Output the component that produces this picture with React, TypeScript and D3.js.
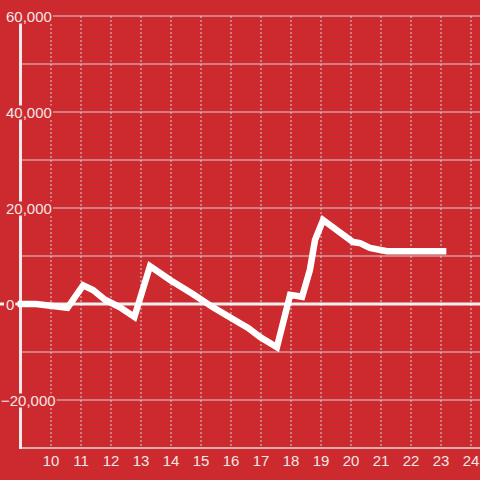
import React, { useEffect, useRef } from "react";
import * as d3 from "d3";

const days = [9.0, 9.5, 10.55, 11.07, 11.4, 11.8, 12.3, 12.78, 13.3, 13.97, 14.7, 15.4, 16.3, 16.57, 16.97, 17.53, 17.97, 18.37, 18.63, 18.8, 19.07, 20.07, 20.3, 20.63, 21.2, 23.07];
const values = [0, 0, -800, 3900, 2900, 900, -700, -2700, 7900, 5000, 2200, -700, -4000, -5000, -6900, -9000, 1900, 1500, 7100, 13300, 17500, 12900, 12700, 11700, 11000, 11000];
const xTicks = [10, 11, 12, 13, 14, 15, 16, 17, 18, 19, 20, 21, 22, 23, 24];
const yGrid = [-20000, -10000, 10000, 20000, 30000, 40000, 50000, 60000];
const yLabels = [60000, 40000, 20000, 0, -20000];

const W = 480;
const H = 480;
const BG = "#cc2a2f";
const TEXT = "#f4e6e6";
const GRID = "#d4d0d0";

export default function App() {
  const ref = useRef<SVGSVGElement | null>(null);

  useEffect(() => {
    const svg = d3.select(ref.current);
    svg.selectAll("*").remove();
    const x = d3.scaleLinear().domain([9, 24.3]).range([21, 480]);
    const y = d3.scaleLinear().domain([-30000, 60000]).range([448, 16]);

    svg.append("rect").attr("width", W).attr("height", H).attr("fill", BG);

    svg.append("g").selectAll("line").data(yGrid).join("line")
      .attr("x1", 21).attr("x2", W)
      .attr("y1", (d) => y(d)).attr("y2", (d) => y(d))
      .attr("stroke", GRID).attr("stroke-width", 1);

    svg.append("g").selectAll("line").data(xTicks).join("line")
      .attr("x1", (d) => x(d)).attr("x2", (d) => x(d))
      .attr("y1", y(60000)).attr("y2", y(-30000))
      .attr("stroke", GRID).attr("stroke-width", 1)
      .attr("stroke-dasharray", "2,2");

    svg.append("line")
      .attr("x1", 20).attr("x2", W)
      .attr("y1", y(-30000)).attr("y2", y(-30000))
      .attr("stroke", "#e0dcdc").attr("stroke-width", 1.5);

    svg.append("line")
      .attr("x1", 20.5).attr("x2", 20.5)
      .attr("y1", y(60000)).attr("y2", y(-30000) + 1)
      .attr("stroke", "#f0eaea").attr("stroke-width", 3);

    svg.append("line")
      .attr("x1", 0).attr("x2", W)
      .attr("y1", y(0)).attr("y2", y(0))
      .attr("stroke", "#f6f0f0").attr("stroke-width", 3);

    const yl = svg.append("g");
    yLabels.forEach((v) => {
      const g = yl.append("g");
      const t = g.append("text")
        .attr("x", v < 0 ? 6 - 5 : 6)
        .attr("y", y(v) + 6)
        .attr("fill", TEXT)
        .attr("font-family", "'Liberation Sans', Arial, sans-serif")
        .attr("font-size", 15)
        .text(d3.format(",")(v));
      const bb = (t.node() as SVGTextElement).getBBox();
      g.insert("rect", "text")
        .attr("x", bb.x - 2).attr("y", y(v) - 6.5)
        .attr("width", bb.width + 3).attr("height", 14)
        .attr("fill", BG);
    });

    svg.append("g").selectAll("text").data(xTicks).join("text")
      .attr("x", (d) => x(d)).attr("y", 466)
      .attr("text-anchor", "middle")
      .attr("fill", TEXT)
      .attr("font-family", "'Liberation Sans', Arial, sans-serif")
      .attr("font-size", 15)
      .text((d) => String(d));

    const pts = days.map((d, i) => [d, values[i]] as [number, number]);
    const line = d3.line<[number, number]>().x((d) => x(d[0])).y((d) => y(d[1]));
    svg.append("path")
      .attr("d", line(pts) || "")
      .attr("fill", "none")
      .attr("stroke", "#ffffff")
      .attr("stroke-width", 6.5)
      .attr("stroke-linejoin", "miter")
      .attr("stroke-linecap", "square");
  }, []);

  return (
    <svg
      ref={ref}
      width={W}
      height={H}
      style={{ position: "absolute", left: 0, top: 0, display: "block" }}
    />
  );
}
